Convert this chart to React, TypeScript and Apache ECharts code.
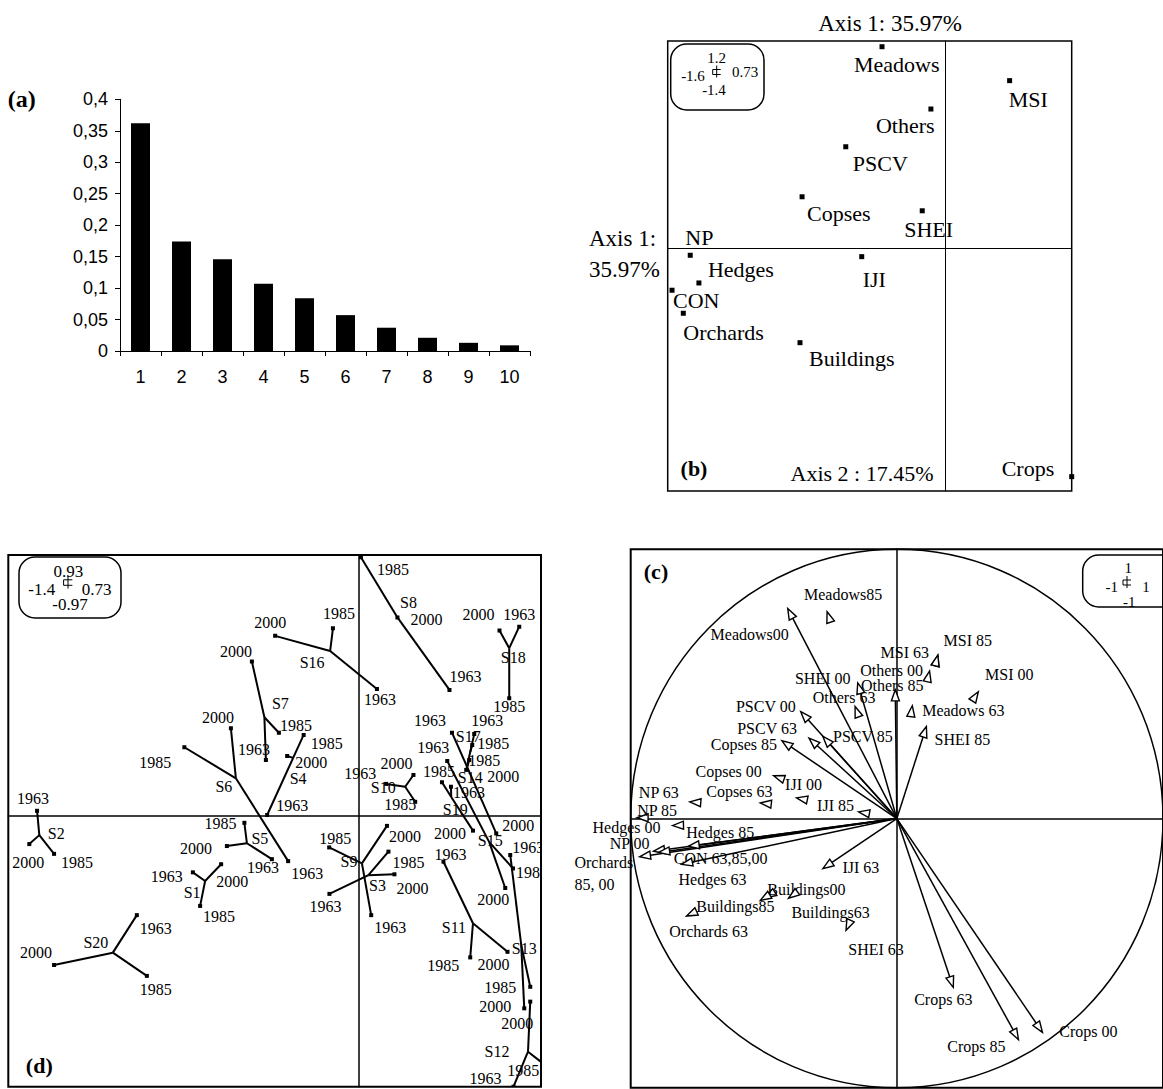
import React, { useEffect, useRef } from 'react';
import * as echarts from 'echarts';

const SERIF = '"Liberation Serif", "Times New Roman", serif';
const SANS = '"Liberation Sans", Arial, sans-serif';

// ---------- (a) eigenvalues ----------
const eigenAxes = ['1', '2', '3', '4', '5', '6', '7', '8', '9', '10'];
const eigenValues = [0.362, 0.174, 0.146, 0.107, 0.084, 0.057, 0.037, 0.021, 0.013, 0.009];

// ---------- (b) PCA variable scores ----------
const pcaNames = ['Meadows', 'MSI', 'Others', 'PSCV', 'Copses', 'SHEI', 'NP', 'Hedges', 'CON', 'Orchards', 'IJI', 'Buildings', 'Crops'];
const pcaX = [-0.364, 0.372, -0.082, -0.573, -0.825, -0.132, -1.47, -1.42, -1.575, -1.51, -0.481, -0.837, 0.73];
const pcaY = [1.167, 0.971, 0.807, 0.589, 0.3, 0.219, -0.038, -0.198, -0.24, -0.373, -0.046, -0.543, -1.317];
const pcaLabelOffset = [[-28, 18], [-1, 19], [-55, 16], [7, 17], [5, 17], [-18, 19], [-5, -18], [9, -13], [1, 10], [0, 19], [1, 23], [9, 16], [-70, -8]];

// ---------- (d) site trajectories ----------
const siteNames = ['S1', 'S2', 'S3', 'S4', 'S5', 'S6', 'S7', 'S8', 'S9', 'S10', 'S11', 'S12', 'S13', 'S14', 'S15', 'S16', 'S17', 'S18', 'S19', 'S20'];
const siteCX = [-0.613, -1.276, 0.04, -0.261, -0.446, -0.49, -0.376, 0.156, 0.014, 0.187, 0.458, 0.678, 0.651, 0.435, 0.523, -0.113, 0.447, 0.603, 0.371, -0.982];
const siteCY = [-0.235, -0.071, -0.214, 0.205, -0.1, 0.132, 0.35, 0.707, -0.172, 0.102, -0.386, -0.845, -0.464, 0.172, -0.096, 0.587, 0.226, 0.597, 0.065, -0.491];
const site1963X = [-0.662, -1.285, -0.116, -0.365, -0.346, -0.281, -0.37, 0.364, 0.051, 0.111, 0.34, 0.62, 0.607, 0.374, 0.355, 0.074, 0.463, 0.643, 0.37, -0.886];
const site1963Y = [-0.204, 0.016, -0.281, 0.001, -0.157, -0.164, 0.197, 0.448, -0.357, 0.112, -0.166, -0.97, -0.142, 0.295, 0.194, 0.451, 0.29, 0.674, 0.102, -0.357];
const site1985X = [-0.633, -1.217, 0.12, -0.219, -0.456, -0.696, -0.318, 0.01, -0.117, 0.227, 0.447, 0.747, 0.687, 0.443, 0.618, -0.102, 0.455, 0.603, 0.334, -0.846];
const site1985Y = [-0.324, -0.138, -0.13, 0.287, -0.027, 0.243, 0.295, 0.922, -0.115, 0.048, -0.508, -0.893, -0.613, 0.197, -0.19, 0.668, 0.251, 0.418, 0.118, -0.574];
const site2000X = [-0.549, -1.316, 0.144, -0.285, -0.526, -0.51, -0.426, 0.156, 0.114, 0.22, 0.596, 0.687, 0.663, 0.551, 0.587, -0.333, 0.431, 0.564, 0.458, -1.217];
const site2000Y = [-0.175, -0.103, -0.211, 0.212, -0.11, 0.311, 0.549, 0.707, -0.038, 0.144, -0.488, -0.666, -0.69, -0.065, -0.26, 0.641, 0.162, 0.66, -0.055, -0.535];
const yearLabels = ['1963', '1985', '2000'];
// label offsets (px) for [1963, 1985, 2000, site name]
const siteLabelOffset = [
  [[-26, 4], [19, 11], [11, 17], [-13, 11]],
  [[-4, -12], [23, 9], [-1, 18], [17, -2]],
  [[-4, 13], [20, 11], [18, 14], [9, 10]],
  [[25, -9], [23, 9], [24, 7], [5, 21]],
  [[-9, 8], [-24, 1], [-31, 2], [13, -5]],
  [[19, 12], [-29, 15], [-13, -11], [-12, 8]],
  [[-12, -11], [17, -7], [-16, -10], [16, -14]],
  [[16, -13], [32, 12], [29, 2], [11, -15]],
  [[19, 12], [6, -9], [18, 11], [-13, -2]],
  [[-26, -10], [-15, 3], [-17, -11], [-22, 1]],
  [[7, -7], [-27, 8], [-14, 13], [-19, 4]],
  [[-28, -8], [-22, 5], [-13, 22], [-31, 0]],
  [[18, -7], [-30, 1], [-29, -2], [3, 3]],
  [[-22, -12], [15, 0], [22, -8], [3, 10]],
  [[-14, -13], [19, 4], [-12, 11], [1, -2]],
  [[3, 10], [6, -15], [-5, -13], [-18, 12]],
  [[13, -14], [21, -2], [37, 7], [-2, -16]],
  [[0, -12], [0, 8], [-21, -16], [4, 9]],
  [[18, 6], [-3, -11], [-23, 3], [4, 12]],
  [[19, 13], [9, 14], [-18, -12], [-17, -10]],
];

// ---------- (c) correlation circle ----------
const activeNames = ['Meadows00', 'SHEI 00', 'Others 85', 'PSCV 00', 'PSCV 63', 'PSCV 85', 'Copses 85', 'SHEI 85', 'IJI 63', 'Crops 63', 'Crops 85', 'Crops 00', 'Orchards\n85, 00', 'NP 00', 'CON 63,85,00', 'Hedges 85', 'Hedges 63'];
const activeX = [-0.41, -0.147, -0.006, -0.361, -0.33, -0.278, -0.432, 0.111, -0.278, 0.212, 0.457, 0.547, -0.967, -0.914, -0.895, -0.784, -0.809];
const activeY = [0.78, 0.504, 0.478, 0.397, 0.299, 0.305, 0.289, 0.342, -0.186, -0.627, -0.821, -0.794, -0.142, -0.121, -0.126, -0.103, -0.17];
const activeLabelOffset = [[-38, 26], [-35, -4], [-3, -4], [-35, -5], [-42, -10], [40, 0], [-38, 4], [36, 13], [38, -1], [-10, 12], [-42, 7], [46, -1], [-65, 17, 'left'], [-24, -8], [62, 6], [32, -14], [31, 15]];

const suppNames = ['Meadows85', 'MSI 85', 'MSI 63', 'Others 00', 'MSI 00', 'Meadows 63', 'Others 63', 'Copses 00', 'Copses 63', 'IJI 00', 'IJI 85', 'NP 63', 'NP 85', 'Hedges 00', 'Buildings00', 'Buildings85', 'Buildings63', 'Orchards 63', 'SHEI 63'];
const suppX = [-0.262, 0.154, 0.154, 0.123, 0.306, 0.058, -0.157, -0.463, -0.513, -0.377, -0.144, -0.778, -0.976, -0.843, -0.494, -0.513, -0.407, -0.79, -0.191];
const suppY = [0.768, 0.607, 0.607, 0.548, 0.471, 0.419, 0.416, 0.159, 0.058, 0.077, 0.025, 0.062, 0.003, -0.026, -0.294, -0.304, -0.296, -0.362, -0.415];
const suppLabelOffset = [[16, -17], [30, -15], [-33, -3], [-38, -1], [31, -17], [51, 5], [-11, -9], [-45, -4], [-21, -11], [7, -13], [-23, -6], [-31, -9], [20, -7], [-46, 2], [41, -8], [-25, 6], [42, 14], [22, 15], [30, 19]];

function valueAxis(gridIndex: number, min: number, max: number, lw: number) {
  return {
    type: 'value', gridIndex, min, max,
    axisLine: { show: true, onZero: true, lineStyle: { color: '#000', width: lw } },
    axisTick: { show: false }, axisLabel: { show: false }, splitLine: { show: false },
  };
}

function txt(x: number, y: number, text: string, size: number, opts: any = {}) {
  return {
    type: 'text', x, y, silent: true,
    style: {
      text, fill: '#000', fontSize: size, fontFamily: opts.family || SERIF,
      fontWeight: opts.bold ? 'bold' : 'normal', align: opts.align || 'center', verticalAlign: 'middle',
    },
  };
}

function line(x1: number, y1: number, x2: number, y2: number, w = 1) {
  return { type: 'line', silent: true, shape: { x1, y1, x2, y2 }, style: { stroke: '#000', lineWidth: w } };
}

function cross(cx: number, cy: number, s: number) {
  return {
    type: 'group', children: [
      line(cx, cy - 6 * s, cx, cy + 6 * s, 1),
      line(cx - 4 * s, cy - 2 * s, cx + 4 * s, cy - 2 * s, 1),
      line(cx - 4 * s, cy + 3 * s, cx + 4 * s, cy + 3 * s, 1),
      line(cx - 4 * s, cy - 2 * s, cx - 4 * s, cy + 3 * s, 1),
    ],
  };
}

function scaleBox(x: number, y: number, w: number, h: number, labels: any[], size: number, c: number[], s: number) {
  return [
    { type: 'rect', silent: true, shape: { x, y, width: w, height: h, r: 16 }, style: { fill: 'none', stroke: '#000', lineWidth: 1.5 } },
    ...labels.map((l) => txt(l[1], l[2], l[0], size)),
    cross(c[0], c[1], s),
  ];
}

function arrowShape(o: number[], t: number[], shaft: boolean) {
  const dx = t[0] - o[0], dy = t[1] - o[1];
  const len = Math.hypot(dx, dy) || 1;
  const ux = dx / len, uy = dy / len;
  const L = 11, W = 4;
  const bx = t[0] - ux * L, by = t[1] - uy * L;
  const nx = -uy, ny = ux;
  const els: any[] = [];
  if (shaft) els.push({ type: 'line', shape: { x1: o[0], y1: o[1], x2: bx, y2: by }, style: { stroke: '#000', lineWidth: 1.5 } });
  els.push({
    type: 'polygon',
    shape: { points: [[t[0], t[1]], [bx + nx * W, by + ny * W], [bx - nx * W, by - ny * W]] },
    style: { fill: '#fff', stroke: '#000', lineWidth: 1.4 },
  });
  return els;
}

export default function App() {
  const ref = useRef<HTMLDivElement>(null);
  useEffect(() => {
    if (!ref.current) return;
    const chart = echarts.init(ref.current, null, { renderer: 'svg' });

    const siteData = siteNames.map((_, i) => [siteCX[i], siteCY[i], site1963X[i], site1963Y[i], site1985X[i], site1985Y[i], site2000X[i], site2000Y[i]]);

    const option: any = {
      animation: false,
      backgroundColor: '#fff',
      grid: [
        { left: 120, top: 99.3, width: 410, height: 251.7 },
        { left: 667.7, top: 41, width: 404, height: 450, show: true, borderColor: '#000', borderWidth: 1.5, backgroundColor: 'transparent' },
        { left: 8.3, top: 555, width: 532.7, height: 531.7, show: true, borderColor: '#000', borderWidth: 2, backgroundColor: 'transparent' },
        { left: 630.7, top: 549.3, width: 542, height: 538.5, show: true, borderColor: '#000', borderWidth: 2, backgroundColor: 'transparent' },
      ],
      xAxis: [
        {
          type: 'category', gridIndex: 0, data: eigenAxes,
          axisLine: { lineStyle: { color: '#000', width: 1 } },
          axisTick: { show: true, length: 5, lineStyle: { color: '#000' } },
          axisLabel: { color: '#000', fontSize: 18, fontFamily: SANS, margin: 17 },
        },
        valueAxis(1, -1.6, 0.73, 1),
        valueAxis(2, -1.4, 0.73, 1.5),
        valueAxis(3, -1, 1, 1.5),
      ],
      yAxis: [
        {
          type: 'value', gridIndex: 0, min: 0, max: 0.4, interval: 0.05,
          axisLine: { show: true, lineStyle: { color: '#000', width: 1 } },
          axisTick: { show: true, length: 5, lineStyle: { color: '#000' } },
          splitLine: { show: false },
          axisLabel: {
            color: '#000', fontSize: 18, fontFamily: SANS, margin: 12,
            formatter: (v: number) => String(+v.toFixed(2)).replace('.', ','),
          },
        },
        valueAxis(1, -1.4, 1.2, 1),
        valueAxis(2, -0.97, 0.93, 1.5),
        valueAxis(3, -1, 1, 1.5),
      ],
      series: [
        {
          type: 'bar', xAxisIndex: 0, yAxisIndex: 0, data: eigenValues, barWidth: 19,
          itemStyle: { color: '#000' }, silent: true,
        },
        {
          type: 'custom', xAxisIndex: 1, yAxisIndex: 1, silent: true,
          data: pcaX.map((x, i) => [x, pcaY[i]]),
          encode: { x: 0, y: 1 },
          renderItem: (params: any, api: any) => {
            const i = params.dataIndex;
            const p = api.coord([api.value(0), api.value(1)]);
            const off = pcaLabelOffset[i];
            return {
              type: 'group', children: [
                { type: 'rect', shape: { x: p[0] - 2.5, y: p[1] - 2.5, width: 5, height: 5 }, style: { fill: '#000' } },
                { type: 'text', x: p[0] + off[0], y: p[1] + off[1], style: { text: pcaNames[i], fill: '#000', fontSize: 22, fontFamily: SERIF, align: 'left', verticalAlign: 'middle' } },
              ],
            };
          },
        },
        {
          type: 'custom', xAxisIndex: 2, yAxisIndex: 2, silent: true, clip: true,
          data: siteData,
          encode: { x: [0, 2, 4, 6], y: [1, 3, 5, 7] },
          renderItem: (params: any, api: any) => {
            const i = params.dataIndex;
            const c = api.coord([api.value(0), api.value(1)]);
            const ends = [0, 1, 2].map((k) => api.coord([api.value(2 + 2 * k), api.value(3 + 2 * k)]));
            const offs = siteLabelOffset[i];
            const children: any[] = [];
            ends.forEach((e) => {
              children.push({ type: 'line', shape: { x1: c[0], y1: c[1], x2: e[0], y2: e[1] }, style: { stroke: '#000', lineWidth: 2 } });
            });
            ends.forEach((e) => {
              children.push({ type: 'rect', shape: { x: e[0] - 2, y: e[1] - 2, width: 4, height: 4 }, style: { fill: '#000' } });
            });
            ends.forEach((e, k) => {
              children.push({ type: 'text', x: e[0] + offs[k][0], y: e[1] + offs[k][1], style: { text: yearLabels[k], fill: '#000', fontSize: 16, fontFamily: SERIF, align: 'center', verticalAlign: 'middle' } });
            });
            children.push({ type: 'text', x: c[0] + offs[3][0], y: c[1] + offs[3][1], style: { text: siteNames[i], fill: '#000', fontSize: 16, fontFamily: SERIF, align: 'center', verticalAlign: 'middle' } });
            return { type: 'group', children };
          },
        },
        {
          type: 'custom', xAxisIndex: 3, yAxisIndex: 3, silent: true,
          data: [[0, 0]], encode: { x: 0, y: 1 },
          renderItem: (params: any, api: any) => {
            const o = api.coord([api.value(0), api.value(1)]);
            const r = api.size([1, 1]);
            return { type: 'ellipse', shape: { cx: o[0], cy: o[1], rx: r[0], ry: r[1] }, style: { fill: 'none', stroke: '#000', lineWidth: 1.5 } };
          },
        },
        {
          type: 'custom', xAxisIndex: 3, yAxisIndex: 3, silent: true,
          data: activeX.map((x, i) => [x, activeY[i]]), encode: { x: 0, y: 1 },
          renderItem: (params: any, api: any) => {
            const i = params.dataIndex;
            const o = api.coord([0, 0]);
            const t = api.coord([api.value(0), api.value(1)]);
            const off: any = activeLabelOffset[i];
            return {
              type: 'group', children: [
                ...arrowShape(o, t, true),
                { type: 'text', x: t[0] + off[0], y: t[1] + off[1], style: { text: activeNames[i], fill: '#000', fontSize: 16, fontFamily: SERIF, align: off[2] || 'center', verticalAlign: 'middle', lineHeight: 22 } },
              ],
            };
          },
        },
        {
          type: 'custom', xAxisIndex: 3, yAxisIndex: 3, silent: true,
          data: suppX.map((x, i) => [x, suppY[i]]), encode: { x: 0, y: 1 },
          renderItem: (params: any, api: any) => {
            const i = params.dataIndex;
            const o = api.coord([0, 0]);
            const t = api.coord([api.value(0), api.value(1)]);
            const off = suppLabelOffset[i];
            return {
              type: 'group', children: [
                ...arrowShape(o, t, false),
                { type: 'text', x: t[0] + off[0], y: t[1] + off[1], style: { text: suppNames[i], fill: '#000', fontSize: 16, fontFamily: SERIF, align: 'center', verticalAlign: 'middle' } },
              ],
            };
          },
        },
      ],
      graphic: [
        txt(21.7, 99.3, '(a)', 24, { bold: true }),
        txt(890, 23, 'Axis 1: 35.97%', 23),
        txt(589, 238, 'Axis 1:', 23, { align: 'left' }),
        txt(589, 269, '35.97%', 23, { align: 'left' }),
        txt(694, 468, '(b)', 22, { bold: true }),
        txt(862, 473, 'Axis 2 : 17.45%', 22),
        ...scaleBox(670.7, 44, 93.3, 66, [['1.2', 716.7, 58.3], ['-1.6', 693, 76], ['0.73', 745, 71.7], ['-1.4', 714, 90]], 15, [716.7, 71.5], 1),
        txt(39.3, 1065, '(d)', 22, { bold: true }),
        ...scaleBox(19, 557, 102, 61, [['0.93', 68.3, 571.7], ['-1.4', 41.7, 589], ['0.73', 96.7, 589], ['-0.97', 70, 604.3]], 17, [68, 582], 1.1),
        txt(656, 571.7, '(c)', 22, { bold: true }),
        ...scaleBox(1082.7, 555, 110, 52, [['1', 1128.3, 568.3], ['-1', 1111.7, 586.7], ['1', 1146, 586.7], ['-1', 1129.3, 602.3]], 15, [1127, 582], 1),
      ],
    };
    chart.setOption(option);
    return () => chart.dispose();
  }, []);
  return <div ref={ref} style={{ position: 'fixed', left: 0, top: 0, width: 1163, height: 1089, background: '#fff' }} />;
}
